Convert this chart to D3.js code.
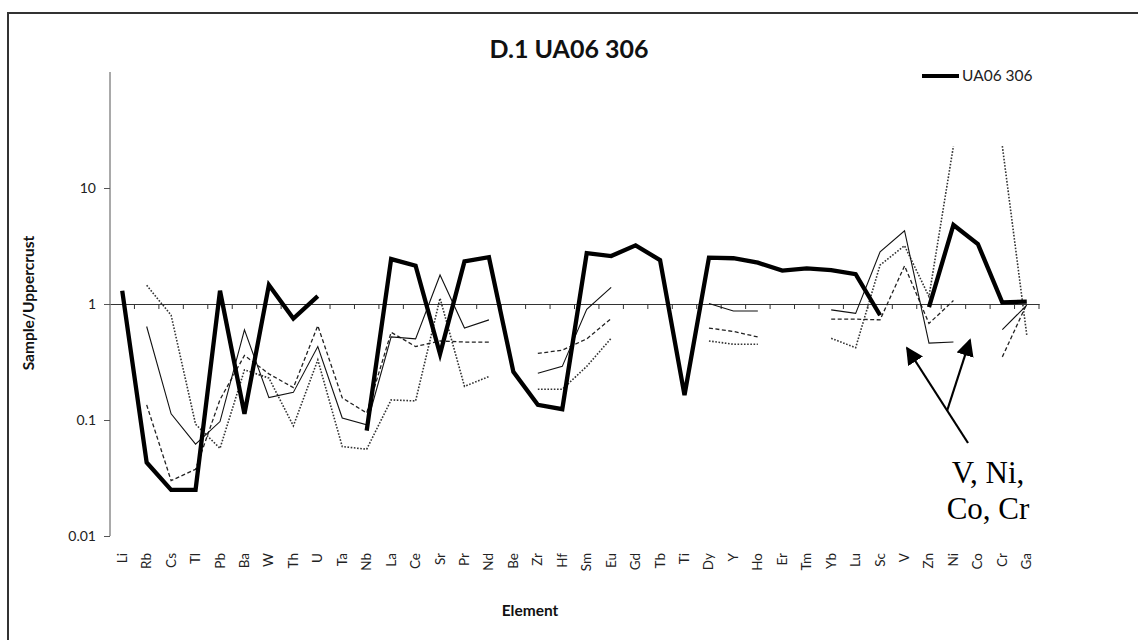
<!DOCTYPE html>
<html>
<head>
<meta charset="utf-8">
<script src="https://cdn.jsdelivr.net/npm/d3@7"></script>
<style>
  body { margin: 0; background: #fff; }
  text { font-family: Lato, "Open Sans", sans-serif; fill: #111; }
</style>
</head>
<body>
<div id="chart"></div>
<script>
// Elementos (eje X)
const elements = ["Li","Rb","Cs","Tl","Pb","Ba","W","Th","U","Ta","Nb","La","Ce","Sr","Pr","Nd","Be","Zr","Hf","Sm",
                  "Eu","Gd","Tb","Ti","Dy","Y","Ho","Er","Tm","Yb","Lu","Sc","V","Zn","Ni","Co","Cr","Ga"];

// Muestra principal UA06 306 (línea gruesa)
const ua06306 = [1.3, 0.043, 0.025, 0.025, 1.3, 0.113, 1.46, 0.75, 1.17, null, 0.081, 2.44, 2.14, 0.37, 2.33, 2.53, 0.26, 0.135, 0.124, 2.74,
                 2.59, 3.2, 2.39, 0.164, 2.51, 2.48, 2.27, 1.94, 2.03, 1.96, 1.81, 0.80, null, 0.94, 4.8, 3.29, 1.03, 1.05];

// Muestras de referencia (líneas finas)
const refSolid = [null, 0.64, 0.113, 0.062, 0.097, 0.60, 0.156, 0.173, 0.43, 0.104, 0.091, 0.52, 0.50, 1.78, 0.62, 0.73, null, 0.253, 0.29, 0.90,
                  1.39, null, null, null, 1.01, 0.87, 0.87, null, null, 0.89, 0.83, 2.82, 4.28, 0.46, 0.47, null, 0.60, 0.98];
const refDashed = [null, 0.135, 0.030, 0.0376, 0.15, 0.36, 0.25, 0.19, 0.65, 0.155, 0.115, 0.57, 0.43, 0.48, 0.47, 0.47, null, 0.375, 0.40, 0.50,
                   0.75, null, null, null, 0.62, 0.58, 0.52, null, null, 0.74, 0.74, 0.73, 2.13, 0.68, 1.07, null, 0.35, 1.0];
const refDotted = [null, 1.45, 0.80, 0.092, 0.057, 0.27, 0.23, 0.089, 0.33, 0.059, 0.056, 0.149, 0.146, 1.12, 0.195, 0.237, null, 0.184, 0.184, 0.29,
                   0.506, null, null, null, 0.48, 0.45, 0.45, null, null, 0.506, 0.42, 2.17, 3.18, 1.16, 23, null, 23, 0.54];

const yTicks = [0.01, 0.1, 1, 10];

// Dimensiones
const width = 1138;
const height = 640;
const plot = { left: 110, right: 1039, top: 72, bottom: 536 };

const svg = d3.select("#chart").append("svg")
    .attr("width", width)
    .attr("height", height);

// Marco (solo borde superior e izquierdo visible en el original)
svg.append("path")
    .attr("d", `M8,640 L8,13 L1138,13`)
    .attr("fill", "none")
    .attr("stroke", "#333")
    .attr("stroke-width", 2);

// Escalas
const x = d3.scalePoint()
    .domain(elements)
    .range([plot.left, plot.right])
    .padding(0.5);

const xBand = d3.scaleBand()
    .domain(elements)
    .range([plot.left, plot.right]);

const y = d3.scaleLog()
    .domain([0.01, 100])
    .range([plot.bottom, plot.top]);

// Eje Y
const yAxis = svg.append("g")
    .attr("transform", `translate(${plot.left},0)`)
    .call(d3.axisLeft(y).tickValues(yTicks).tickFormat(d => String(d)).tickSize(6).tickPadding(8));
yAxis.select(".domain").attr("stroke", "#555").attr("d", `M0,${plot.top}V${plot.bottom}`);
yAxis.selectAll(".tick line").attr("stroke", "#555");
yAxis.selectAll(".tick text").style("font-size", "14px").style("fill", "#222");

// Eje X cruzando en 1
const xAxis = svg.append("g")
    .attr("transform", `translate(0,${y(1)})`)
    .call(d3.axisBottom(xBand).tickSize(0).tickFormat(""));
xAxis.select(".domain").attr("stroke", "#333");
xAxis.selectAll(".tick").remove();
xAxis.selectAll("line.sep")
    .data(elements)
    .enter().append("line")
    .attr("class", "sep")
    .attr("x1", d => xBand(d) + xBand.bandwidth())
    .attr("x2", d => xBand(d) + xBand.bandwidth())
    .attr("y1", 0)
    .attr("y2", 5)
    .attr("stroke", "#333");

// Etiquetas de categorías (abajo, rotadas)
svg.append("g").selectAll("text")
    .data(elements)
    .enter().append("text")
    .attr("transform", d => `translate(${x(d) + 4.5},553) rotate(-90)`)
    .attr("text-anchor", "end")
    .style("font-size", "13.5px")
    .style("fill", "#222")
    .text(d => d);

// Líneas
const line = d3.line()
    .defined(d => d.v != null)
    .x(d => x(d.e))
    .y(d => y(d.v));

function drawSeries(values, strokeWidth, dash, color) {
    const pts = elements.map((e, i) => ({ e: e, v: values[i] }));
    svg.append("path")
        .datum(pts)
        .attr("d", line)
        .attr("fill", "none")
        .attr("stroke", color)
        .attr("stroke-width", strokeWidth)
        .attr("stroke-dasharray", dash)
        .attr("stroke-linejoin", "miter");
}

drawSeries(refDotted, 1.6, "1.6,1.6", "#333");
drawSeries(refDashed, 1.3, "4,2.5", "#222");
drawSeries(refSolid, 1.1, null, "#111");
drawSeries(ua06306, 4.3, null, "#000");

// Título
svg.append("text")
    .attr("x", 569)
    .attr("y", 58)
    .attr("text-anchor", "middle")
    .style("font-size", "25px")
    .style("font-weight", "bold")
    .text("D.1 UA06 306");

// Títulos de ejes
svg.append("text")
    .attr("transform", "translate(34,303) rotate(-90)")
    .attr("text-anchor", "middle")
    .style("font-size", "15.5px")
    .style("font-weight", "bold")
    .text("Sample/Uppercrust");

svg.append("text")
    .attr("x", 530)
    .attr("y", 616)
    .attr("text-anchor", "middle")
    .style("font-size", "15.5px")
    .style("font-weight", "bold")
    .text("Element");

// Leyenda
svg.append("line")
    .attr("x1", 922).attr("x2", 959)
    .attr("y1", 76).attr("y2", 76)
    .attr("stroke", "#000")
    .attr("stroke-width", 4);
svg.append("text")
    .attr("x", 962)
    .attr("y", 81)
    .style("font-size", "15.5px")
    .style("fill", "#222")
    .text("UA06 306");

// Anotación con flechas
svg.append("defs").append("marker")
    .attr("id", "arrow")
    .attr("viewBox", "0 0 10 10")
    .attr("refX", 9).attr("refY", 5)
    .attr("markerWidth", 8).attr("markerHeight", 8)
    .attr("markerUnits", "strokeWidth")
    .attr("orient", "auto")
    .append("path")
    .attr("d", "M0,0 L10,5 L0,10 z")
    .attr("fill", "#000");

svg.append("line")
    .attr("x1", 968).attr("y1", 443)
    .attr("x2", 907).attr("y2", 348)
    .attr("stroke", "#000").attr("stroke-width", 2.2)
    .attr("marker-end", "url(#arrow)");
svg.append("line")
    .attr("x1", 947).attr("y1", 411)
    .attr("x2", 970).attr("y2", 340)
    .attr("stroke", "#000").attr("stroke-width", 2.2)
    .attr("marker-end", "url(#arrow)");

const note = svg.append("text")
    .attr("text-anchor", "middle")
    .style("font-family", "'Liberation Serif', 'DejaVu Serif', serif")
    .style("font-size", "31px")
    .style("fill", "#000");
note.append("tspan").attr("x", 988).attr("y", 483).text("V, Ni,");
note.append("tspan").attr("x", 988).attr("y", 519).text("Co, Cr");
</script>
</body>
</html>
